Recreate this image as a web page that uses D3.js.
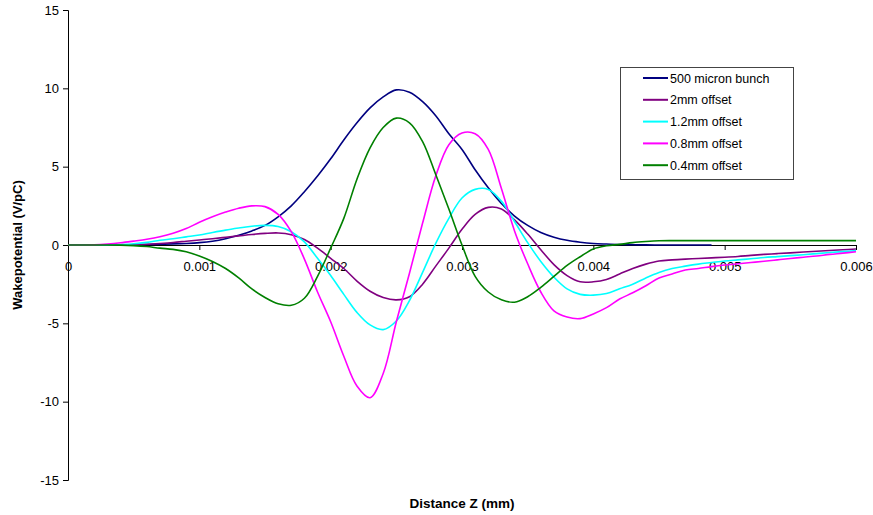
<!DOCTYPE html>
<html>
<head>
<meta charset="utf-8">
<script src="https://cdn.jsdelivr.net/npm/d3@7"></script>
<style>
  html, body { margin: 0; padding: 0; background: #fff; }
  svg { display: block; font-family: "Liberation Sans", Arial, sans-serif; }
</style>
</head>
<body>
<svg id="chart" width="873" height="515"></svg>
<script>
// Distance grid (mm), step 0.0001 from 0 to 0.006
const zGrid = d3.range(61).map(k => +(k * 0.0001).toFixed(4));

// Wakepotential (V/pC) for each case
const bunch500 = [0, 0, 0, 0, 0.01, 0.02, 0.03, 0.05, 0.07, 0.1,
  0.15, 0.24, 0.4, 0.62, 0.9, 1.25, 1.8, 2.5, 3.4, 4.4,
  5.5, 6.7, 7.8, 8.75, 9.45, 9.9, 9.75, 9.15, 8.25, 7.1,
  6.1, 4.8, 3.65, 2.65, 1.85, 1.25, 0.8, 0.5, 0.3, 0.18,
  0.1, 0.06, 0.03, 0.02, 0.01, 0, 0, 0, 0, 0];
const offset2mm = [0, 0, 0, 0, 0, 0.02, 0.05, 0.1, 0.16, 0.24,
  0.32, 0.4, 0.49, 0.58, 0.67, 0.74, 0.77, 0.66, 0.35, -0.2,
  -0.85, -1.5, -2.3, -2.95, -3.35, -3.5, -3.3, -2.5, -1.35, -0.2,
  1.0, 1.95, 2.4, 2.3, 1.6, 0.7, -0.3, -1.25, -1.95, -2.35,
  -2.35, -2.2, -1.85, -1.5, -1.22, -1.02, -0.95, -0.9, -0.86, -0.82,
  -0.78, -0.73, -0.66, -0.6, -0.55, -0.5, -0.45, -0.4, -0.35, -0.3, -0.26];
const offset1_2mm = [0, 0, 0, 0, 0.03, 0.08, 0.17, 0.3, 0.4, 0.52,
  0.64, 0.8, 0.95, 1.08, 1.2, 1.25, 1.18, 0.85, 0.2, -0.85,
  -1.95, -3.15, -4.3, -5.1, -5.4, -4.85, -3.55, -1.75, 0.1, 1.7,
  3.0, 3.55, 3.55, 2.8, 1.5, 0.15, -1.05, -2.05, -2.8, -3.15,
  -3.2, -3.1, -2.8, -2.5, -2.1, -1.75, -1.5, -1.35, -1.22, -1.12,
  -1.02, -0.95, -0.88, -0.8, -0.74, -0.68, -0.62, -0.55, -0.48, -0.42, -0.36];
const offset0_8mm = [0, 0, 0.01, 0.06, 0.14, 0.25, 0.37, 0.53, 0.75, 1.05,
  1.45, 1.8, 2.1, 2.35, 2.5, 2.45, 1.95, 0.85, -0.9, -3.0,
  -4.9, -7.1, -9.0, -9.75, -8.2, -4.9, -1.8, 1.4, 4.4, 6.4,
  7.15, 7.1, 6.1, 3.6, 0.9, -1.2, -3.0, -4.2, -4.6, -4.7,
  -4.4, -4.0, -3.45, -3.05, -2.6, -2.1, -1.85, -1.6, -1.5, -1.38,
  -1.28, -1.2, -1.12, -1.04, -0.95, -0.86, -0.78, -0.7, -0.6, -0.52, -0.43];
const offset0_4mm = [0, 0, 0, 0, -0.01, -0.04, -0.1, -0.2, -0.28, -0.43,
  -0.7, -1.05, -1.5, -2.1, -2.8, -3.35, -3.75, -3.85, -3.4, -2.0,
  -0.2, 1.7, 4.2, 6.2, 7.5, 8.1, 7.8, 6.6, 4.5, 2.3,
  0.0, -2.0, -3.0, -3.5, -3.65, -3.3, -2.7, -2.0, -1.3, -0.75,
  -0.25, -0.05, 0.04, 0.15, 0.22, 0.27, 0.28, 0.28, 0.28, 0.28,
  0.28, 0.28, 0.28, 0.28, 0.28, 0.28, 0.28, 0.28, 0.28, 0.28, 0.28];

const seriesNames = ["500 micron bunch", "2mm offset", "1.2mm offset", "0.8mm offset", "0.4mm offset"];
const seriesValues = [bunch500, offset2mm, offset1_2mm, offset0_8mm, offset0_4mm];
const seriesColors = ["#000080", "#800080", "#00FFFF", "#FF00FF", "#008000"];

const xTicks = [0, 0.001, 0.002, 0.003, 0.004, 0.005, 0.006];
const yTicks = [-15, -10, -5, 0, 5, 10, 15];

const svg = d3.select("#chart");
const FONT = "Liberation Sans, Arial, sans-serif";

const x = d3.scaleLinear().domain([0, 0.006]).range([68, 856]);
const y = d3.scaleLinear().domain([-15, 15]).range([480, 10]);

// Y axis on the left edge of the plot
const yAxis = svg.append("g")
  .attr("transform", `translate(${x(0)},0)`)
  .call(d3.axisLeft(y).tickValues(yTicks).tickSize(5).tickPadding(4).tickFormat(d => String(d)));
yAxis.select(".domain").attr("stroke", "#000").attr("stroke-width", 1);
yAxis.selectAll(".tick line").attr("stroke", "#000");
yAxis.selectAll("text").attr("font-size", 13).attr("fill", "#000").attr("font-family", FONT);

// X axis crossing at zero
const xAxis = svg.append("g")
  .attr("transform", `translate(0,${y(0)})`)
  .call(d3.axisBottom(x).tickValues(xTicks).tickSize(5).tickSizeOuter(0).tickPadding(12)
    .tickFormat(d => d === 0 ? "0" : d3.format(".3f")(d)));
xAxis.select(".domain").attr("stroke", "#000").attr("stroke-width", 1);
xAxis.selectAll(".tick line").attr("stroke", "#000");
xAxis.selectAll("text").attr("font-size", 13).attr("fill", "#000").attr("font-family", FONT);
xAxis.selectAll(".tick").filter(d => d === 0).select("line").remove();

// Curves
const line = d3.line()
  .x((d, i) => x(zGrid[i]))
  .y(d => y(d))
  .curve(d3.curveCatmullRom.alpha(0.5));

svg.append("g").selectAll("path")
  .data(seriesValues)
  .join("path")
  .attr("d", d => line(d))
  .attr("fill", "none")
  .attr("stroke", (d, i) => seriesColors[i])
  .attr("stroke-width", 1.6)
  .attr("stroke-linejoin", "round");

// Axis titles
svg.append("text")
  .attr("x", 462).attr("y", 508)
  .attr("text-anchor", "middle")
  .attr("font-size", 13.5).attr("font-weight", "bold")
  .text("Distance Z (mm)");

svg.append("text")
  .attr("transform", `translate(22,245) rotate(-90)`)
  .attr("text-anchor", "middle")
  .attr("font-size", 13).attr("font-weight", "bold")
  .text("Wakepotential (V/pC)");

// Legend
const legend = svg.append("g");
legend.append("rect")
  .attr("x", 620.5).attr("y", 67.5)
  .attr("width", 173).attr("height", 112)
  .attr("fill", "#fff").attr("stroke", "#444").attr("stroke-width", 1);

const rows = legend.selectAll("g.row")
  .data(seriesNames)
  .join("g")
  .attr("class", "row")
  .attr("transform", (d, i) => `translate(0,${78 + i * 21.8})`);
rows.append("line")
  .attr("x1", 643).attr("x2", 668)
  .attr("stroke", (d, i) => seriesColors[i])
  .attr("stroke-width", 2);
rows.append("text")
  .attr("x", 670).attr("y", 4.5)
  .attr("font-size", 12.5)
  .text(d => d);
</script>
</body>
</html>
